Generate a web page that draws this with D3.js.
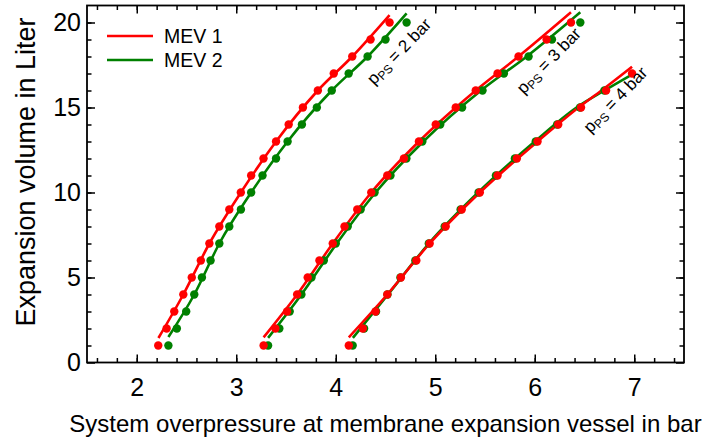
<!DOCTYPE html>
<html>
<head>
<meta charset="utf-8">
<script src="https://cdn.jsdelivr.net/npm/d3@7"></script>
<style>
  body { margin: 0; background: #fff; }
  svg text { font-family: "Liberation Sans", Arial, sans-serif; fill: #000; }
</style>
</head>
<body>
<svg id="chart" width="703" height="441"></svg>
<script>
//measured volumes in liter (y values)
const volume = [1, 2, 3, 4, 5, 6, 7, 8, 9, 10, 11, 12, 13, 14, 15, 16, 17, 18, 19, 20]

//system overpressure in bar for each volume step
const mev1_2bar = [2.216, 2.30, 2.377, 2.468, 2.553, 2.644, 2.73, 2.83, 2.93, 3.046, 3.15, 3.274, 3.40, 3.527, 3.67, 3.82, 3.98, 4.166, 4.35, 4.541]
const mev2_2bar = [2.318, 2.403, 2.497, 2.578, 2.655, 2.742, 2.83, 2.93, 3.047, 3.15, 3.264, 3.40, 3.516, 3.66, 3.81, 3.96, 4.13, 4.32, 4.50, 4.712]
const mev1_3bar = [3.275, 3.393, 3.511, 3.612, 3.718, 3.836, 3.970, 4.088, 4.216, 4.357, 4.518, 4.685, 4.836, 5.005, 5.206, 5.407, 5.626, 5.837, 6.119, 6.364]
const mev2_3bar = [3.32, 3.433, 3.537, 3.655, 3.756, 3.88, 4.00, 4.12, 4.25, 4.39, 4.55, 4.71, 4.87, 5.05, 5.27, 5.475, 5.69, 5.938, 6.173, 6.458]
const mev1_4bar = [4.131, 4.272, 4.40, 4.518, 4.655, 4.81, 4.944, 5.105, 5.266, 5.448, 5.626, 5.82, 6.028, 6.236, 6.465, 6.717, 6.978]
const mev2_4bar = [4.17, 4.285, 4.405, 4.52, 4.65, 4.80, 4.935, 5.095, 5.255, 5.435, 5.61, 5.80, 6.01, 6.225, 6.455, 6.70]

//fitted curves [bar, liter]
const fit1_2bar = [[2.218, 1.44], [2.468, 4], [2.73, 7], [3.046, 10], [3.40, 13], [3.82, 16], [4.166, 18], [4.541, 20.44]]
const fit2_2bar = [[2.318, 1.5], [2.578, 4], [2.83, 7], [3.15, 10], [3.516, 13], [3.96, 16], [4.32, 18], [4.712, 20.54]]
const fit1_3bar = [[3.275, 1.48], [3.612, 4], [3.97, 7], [4.357, 10], [4.836, 13], [5.407, 16], [5.837, 18], [6.364, 20.6]]
const fit2_3bar = [[3.32, 1.45], [3.655, 4], [4.01, 7], [4.40, 10], [4.88, 13], [5.46, 16], [5.92, 18], [6.458, 20.6]]
const fit1_4bar = [[4.131, 1.48], [4.518, 4], [4.944, 7], [5.448, 10], [6.028, 13], [6.44, 15], [6.67, 16], [6.978, 17.4]]
const fit2_4bar = [[4.172, 1.45], [4.525, 4], [4.935, 7], [5.43, 10], [6.00, 13], [6.42, 15], [6.70, 16], [6.95, 16.85]]

const xTicks = [2, 3, 4, 5, 6, 7]
  , yTicks = [0, 5, 10, 15, 20]
  , seriesNames = ["MEV 1", "MEV 2"]
  , pressureLabels = ["2 bar", "3 bar", "4 bar"]
  //label anchor in data units [bar, liter]
  , labelAnchors = [[4.385, 16.3], [5.89, 15.75], [6.56, 13.45]]

const colors = {"MEV 1": "#ff0000", "MEV 2": "#008000"}

let svg = d3.select("#chart")
  , width = +svg.attr("width")
  , height = +svg.attr("height")
  , margin = {top: 5.5, right: 19, bottom: 78.5, left: 87}

let x = d3.scaleLinear().domain([1.5, 7.5]).range([margin.left, width - margin.right])
let y = d3.scaleLinear().domain([0, 21]).range([height - margin.bottom, margin.top])

const xMinor = d3.range(1.6, 7.45, 0.2)
  , yMinor = d3.range(1, 21, 1)

//axes, ticks pointing inward on all four sides
const drawAxis = (axis, transform, labels)=>{
  let g = svg.append("g").attr("transform", transform).call(axis)
  g.select(".domain").remove()
  g.selectAll("line").attr("stroke", "#000").attr("stroke-width", 1.5)
  if (!labels) g.selectAll("text").remove()
  else g.selectAll("text").style("font-size", "25px")
  return g
}

const atBottom = "translate(0," + y(0) + ")"
  , atTop = "translate(0," + margin.top + ")"
  , atLeft = "translate(" + margin.left + ",0)"
  , atRight = "translate(" + (width - margin.right) + ",0)"

drawAxis(d3.axisBottom(x).tickValues(xMinor).tickSize(-4.5), atBottom, false)
drawAxis(d3.axisBottom(x).tickValues(xTicks).tickSize(-8).tickPadding(16).tickFormat(d3.format("d")), atBottom, true)
drawAxis(d3.axisTop(x).tickValues(xMinor).tickSize(-4.5), atTop, false)
drawAxis(d3.axisTop(x).tickValues(xTicks).tickSize(-8), atTop, false)
drawAxis(d3.axisLeft(y).tickValues(yMinor).tickSize(-4.5), atLeft, false)
drawAxis(d3.axisLeft(y).tickValues(yTicks).tickSize(-8).tickPadding(6).tickFormat(d3.format("d")), atLeft, true)
drawAxis(d3.axisRight(y).tickValues(yMinor).tickSize(-4.5), atRight, false)
drawAxis(d3.axisRight(y).tickValues(yTicks).tickSize(-8), atRight, false)

//plot frame
svg.append("rect")
  .attr("x", x(1.5)).attr("y", y(21))
  .attr("width", x(7.5) - x(1.5)).attr("height", y(0) - y(21))
  .attr("fill", "none").attr("stroke", "#000").attr("stroke-width", 1.8)

//axis titles
svg.append("text")
  .attr("x", (x(1.5) + x(7.5)) / 2).attr("y", 432)
  .attr("text-anchor", "middle").style("font-size", "24px")
  .text("System overpressure at membrane expansion vessel in bar")

svg.append("text")
  .attr("transform", "translate(35,172) rotate(-90)")
  .attr("text-anchor", "middle").style("font-size", "27px")
  .text("Expansion volume in Liter")

//curves and measurement points
const groups = [
  {name: "MEV 2", fit: fit2_2bar, p: mev2_2bar},
  {name: "MEV 1", fit: fit1_2bar, p: mev1_2bar},
  {name: "MEV 2", fit: fit2_3bar, p: mev2_3bar},
  {name: "MEV 1", fit: fit1_3bar, p: mev1_3bar},
  {name: "MEV 2", fit: fit2_4bar, p: mev2_4bar},
  {name: "MEV 1", fit: fit1_4bar, p: mev1_4bar}
]

let line = d3.line().x(d=>x(d[0])).y(d=>y(d[1])).curve(d3.curveMonotoneX)

let plot = svg.append("g")

groups.forEach(g=>{
  plot.append("path").datum(g.fit)
    .attr("d", line)
    .attr("fill", "none")
    .attr("stroke", colors[g.name])
    .attr("stroke-width", 2.6)
})

groups.forEach(g=>{
  plot.selectAll(null).data(g.p).enter().append("circle")
    .attr("cx", d=>x(d))
    .attr("cy", (d, i)=>y(volume[i]))
    .attr("r", 4.2)
    .attr("fill", colors[g.name])
})

//pressure labels, rotated along the curves
labelAnchors.forEach((a, i)=>{
  let t = svg.append("text")
    .attr("transform", "translate(" + x(a[0]) + "," + y(a[1]) + ") rotate(-46)")
    .style("font-size", "17px")
  t.append("tspan").text("p")
  t.append("tspan").attr("dy", 3).style("font-size", "12px").text("PS")
  t.append("tspan").attr("dy", -3).text(" = " + pressureLabels[i])
})

//legend
let legend = svg.append("g")
seriesNames.forEach((s, i)=>{
  let ly = 36 + i * 24
  legend.append("line")
    .attr("x1", 107).attr("x2", 153).attr("y1", ly).attr("y2", ly)
    .attr("stroke", colors[s]).attr("stroke-width", 2.6)
  legend.append("text")
    .attr("x", 164).attr("y", ly + 7)
    .style("font-size", "19.5px")
    .text(s)
})
</script>
</body>
</html>
